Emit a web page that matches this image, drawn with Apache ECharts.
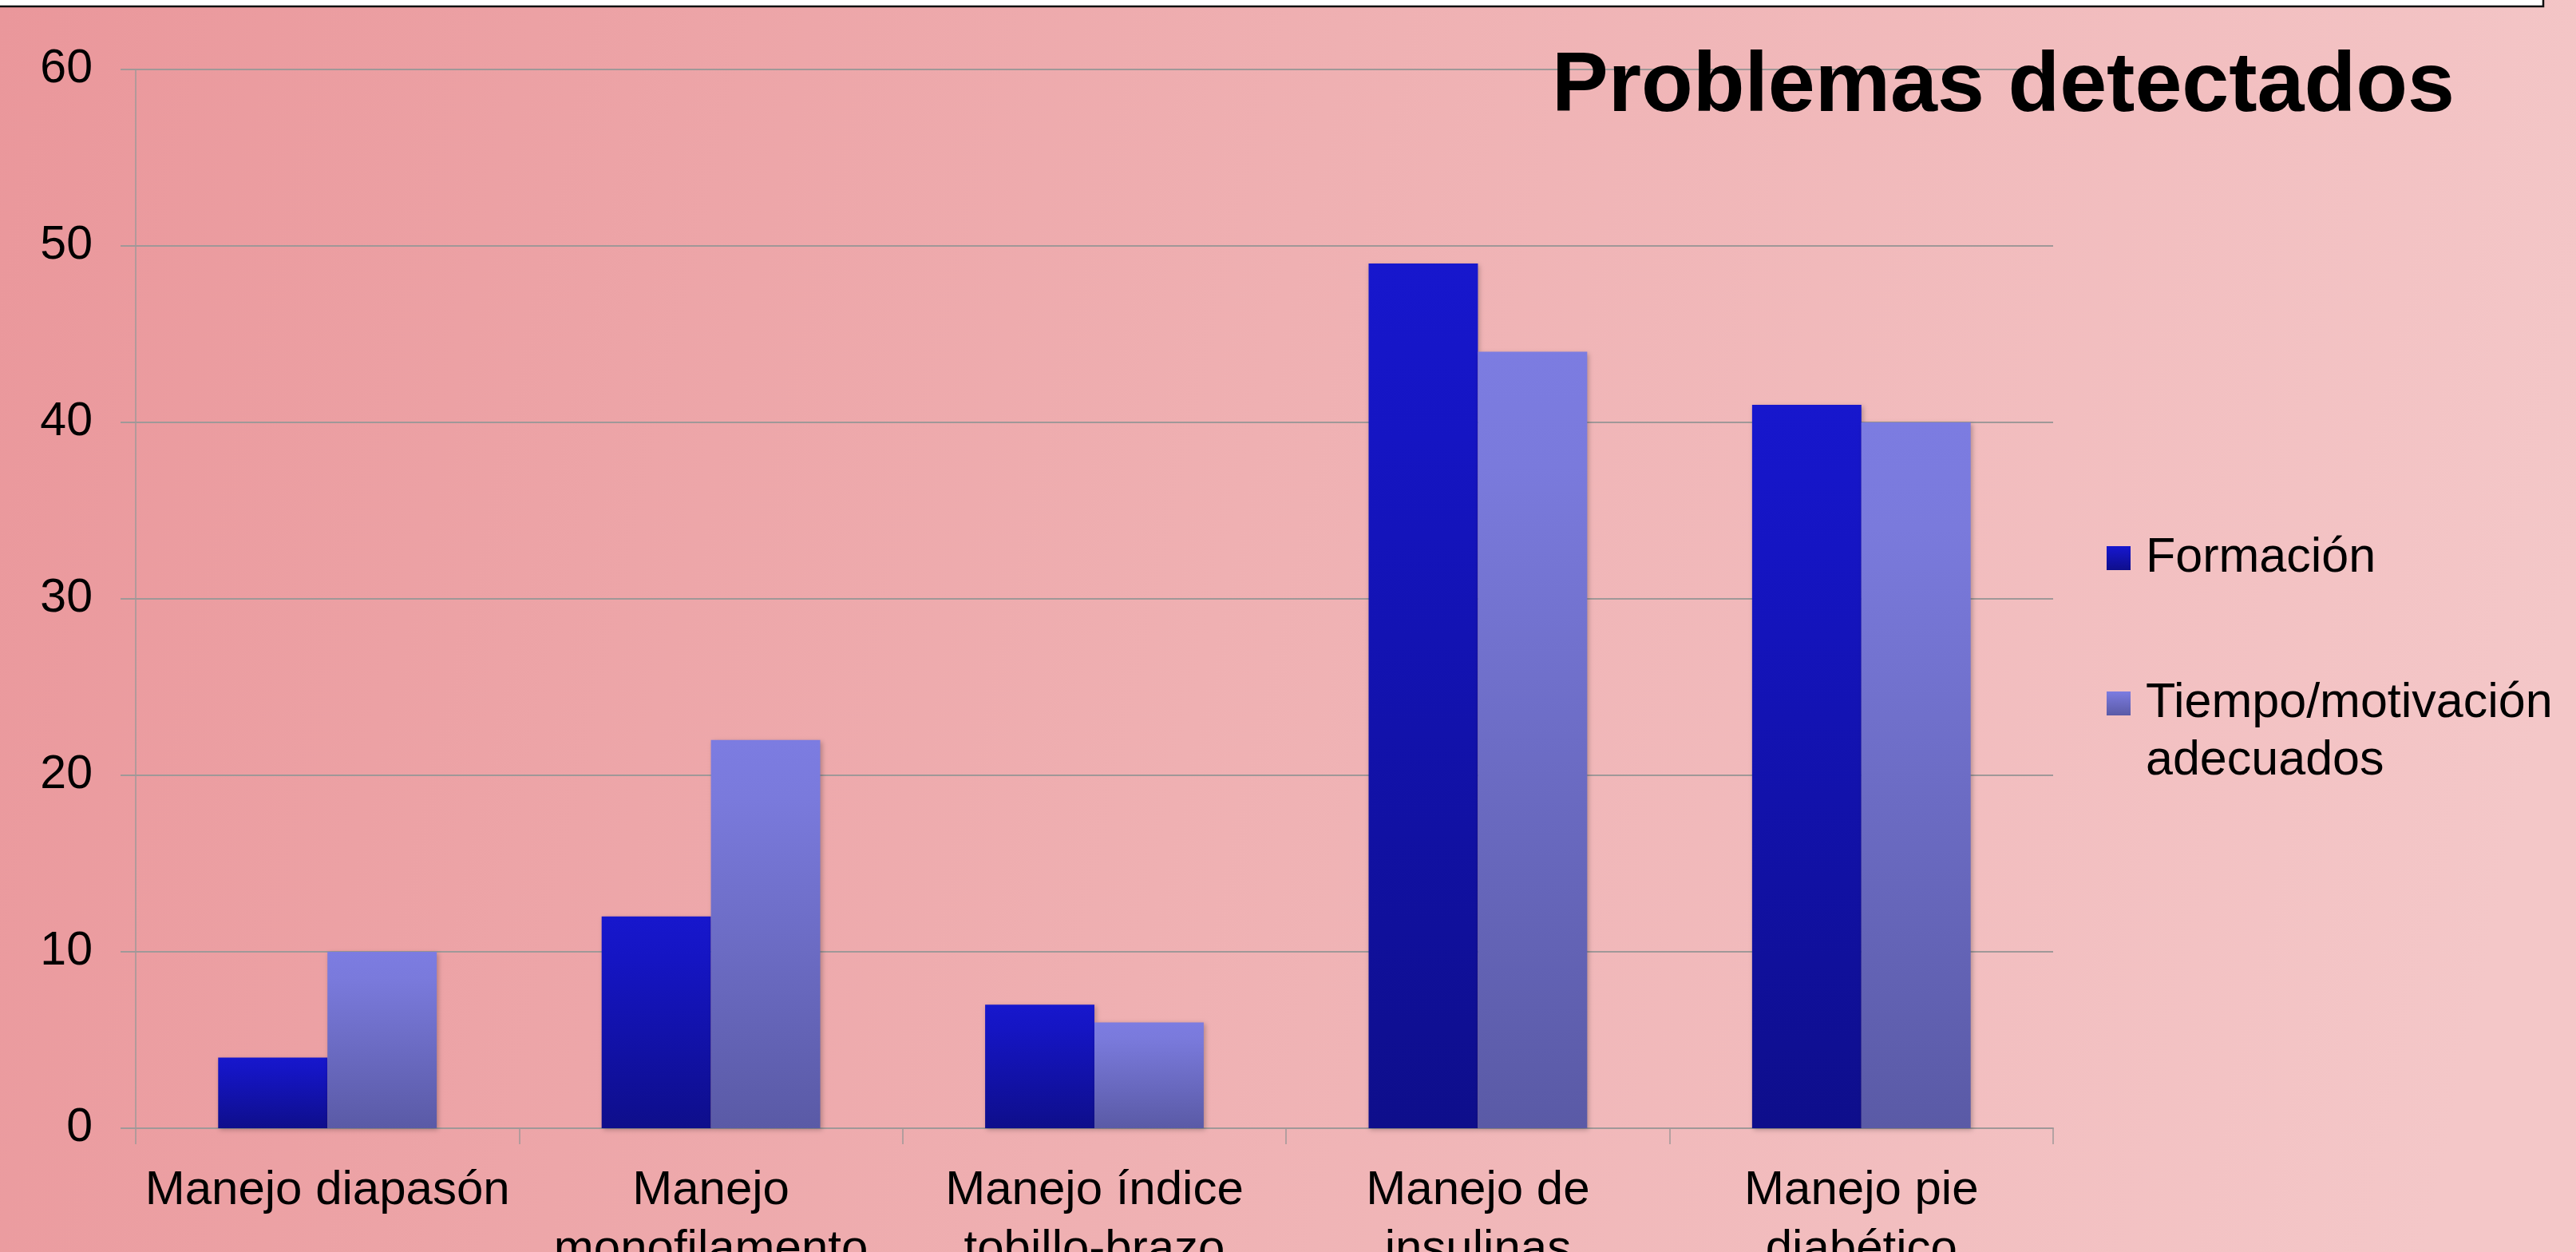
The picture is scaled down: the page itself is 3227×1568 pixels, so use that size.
<!DOCTYPE html>
<html>
<head>
<meta charset="utf-8">
<style>
  html, body { margin: 0; padding: 0; background: #f0b0b2; overflow: hidden; }
  #chart { width: 3227px; height: 1568px; }
</style>
<script src="https://cdn.jsdelivr.net/npm/echarts@6/dist/echarts.min.js"></script>
</head>
<body>
<div id="chart"></div>
<script>
// Categories (explicit line breaks as shown under the axis)
const categories = [
  'Manejo diapasón',
  'Manejo\nmonofilamento',
  'Manejo índice\ntobillo-brazo',
  'Manejo de\ninsulinas',
  'Manejo pie\ndiabético'
];

// Series values
const formacion = [4, 12, 7, 49, 41];
const tiempoMotivacion = [10, 22, 6, 44, 40];

// Series names
const nameFormacion = 'Formación';
const nameTiempo = 'Tiempo/motivación adecuados';

// Chart title
const chartTitle = 'Problemas detectados';

// Y axis range
const yMin = 0, yMax = 60, yStep = 10;

const FONT = '"Liberation Sans", Arial, Helvetica, sans-serif';
const G = echarts.graphic.LinearGradient;

const gradFormacion = new G(0, 0, 0, 1, [
  { offset: 0, color: '#1717cd' },
  { offset: 0.2, color: '#1515c3' },
  { offset: 1, color: '#0e0e8b' }
]);
const gradTiempo = new G(0, 0, 0, 1, [
  { offset: 0, color: '#7c7ce1' },
  { offset: 0.15, color: '#7a7adc' },
  { offset: 1, color: '#5a5aa6' }
]);
// Legend swatch for the two-line item occupies the top 30px of a 102px icon box
const gradTiempoLegend = new G(0, 0, 0, 1, [
  { offset: 0, color: '#7c7ce1' },
  { offset: 0.294, color: '#5a5aa6' },
  { offset: 1, color: '#5a5aa6' }
]);

const chart = echarts.init(document.getElementById('chart'), null, { renderer: 'canvas' });

const gridColor = '#a09898';

chart.setOption({
  animation: false,
  graphic: [
    {
      type: 'rect', z: -100, silent: true,
      shape: { x: 0, y: 0, width: 3227, height: 1568 },
      style: {
        fill: new G(0, 0, 1, 0.45, [
          { offset: 0, color: '#ea979b' },
          { offset: 0.5, color: '#efb0b2' },
          { offset: 1, color: '#f4c7c8' }
        ])
      }
    },
    {
      type: 'rect', z: 100, silent: true,
      shape: { x: -4, y: -12, width: 3190, height: 20 },
      style: { fill: '#ffffff', stroke: '#111111', lineWidth: 2.5 }
    }
  ],
  title: {
    text: chartTitle,
    right: 152,
    top: 57,
    padding: 0,
    textStyle: { fontFamily: FONT, fontSize: 106, fontWeight: 'bold', color: '#000' }
  },
  legend: [
    {
      data: [nameFormacion],
      orient: 'vertical',
      left: 2639,
      top: 664,
      padding: 0,
      itemWidth: 30,
      itemHeight: 30,
      icon: 'rect',
      selectedMode: false,
      textStyle: { fontFamily: FONT, fontSize: 61, lineHeight: 70, color: '#000', padding: [0, 0, 0, 14] }
    },
    {
      data: [{
        name: nameTiempo,
        icon: 'path://M0,0L30,0L30,30L0,30Z M0,102',
        itemStyle: { color: gradTiempoLegend }
      }],
      orient: 'vertical',
      left: 2639,
      top: 845,
      padding: 0,
      itemWidth: 30,
      itemHeight: 102,
      selectedMode: false,
      formatter: (n) => n.replace(' ', '\n'),
      textStyle: { fontFamily: FONT, fontSize: 61, lineHeight: 72, color: '#000', padding: [0, 0, 0, 14] }
    }
  ],
  grid: {
    left: 170,
    right: 3227 - 2572,
    top: 87,
    bottom: 1568 - 1413,
    containLabel: false,
    outerBoundsMode: 'none'
  },
  xAxis: {
    type: 'category',
    data: categories,
    axisLine: { show: true, lineStyle: { color: gridColor, width: 2 } },
    axisTick: { show: true, interval: 0, length: 20, alignWithLabel: false, lineStyle: { color: gridColor, width: 1.5 } },
    axisLabel: {
      interval: 0,
      margin: 41,
      fontFamily: FONT,
      fontSize: 60,
      lineHeight: 74,
      color: '#000'
    },
    splitLine: { show: false }
  },
  yAxis: {
    type: 'value',
    min: yMin,
    max: yMax,
    interval: yStep,
    axisLine: { show: true, lineStyle: { color: gridColor, width: 1.5 } },
    axisTick: { show: true, length: 19, inside: false, lineStyle: { color: gridColor, width: 2 } },
    axisLabel: { margin: 54, fontFamily: FONT, fontSize: 59, color: '#000' },
    splitLine: { show: true, lineStyle: { color: gridColor, width: 2 } }
  },
  series: [
    {
      name: nameFormacion,
      type: 'bar',
      data: formacion,
      barGap: '0%',
      barCategoryGap: '43%',
      itemStyle: {
        color: gradFormacion,
        shadowBlur: 6,
        shadowColor: 'rgba(0,0,0,0.25)',
        shadowOffsetX: 2,
        shadowOffsetY: 2
      }
    },
    {
      name: nameTiempo,
      type: 'bar',
      data: tiempoMotivacion,
      barGap: '0%',
      barCategoryGap: '43%',
      itemStyle: {
        color: gradTiempo,
        shadowBlur: 6,
        shadowColor: 'rgba(0,0,0,0.25)',
        shadowOffsetX: 2,
        shadowOffsetY: 2
      }
    }
  ]
});
</script>
</body>
</html>
